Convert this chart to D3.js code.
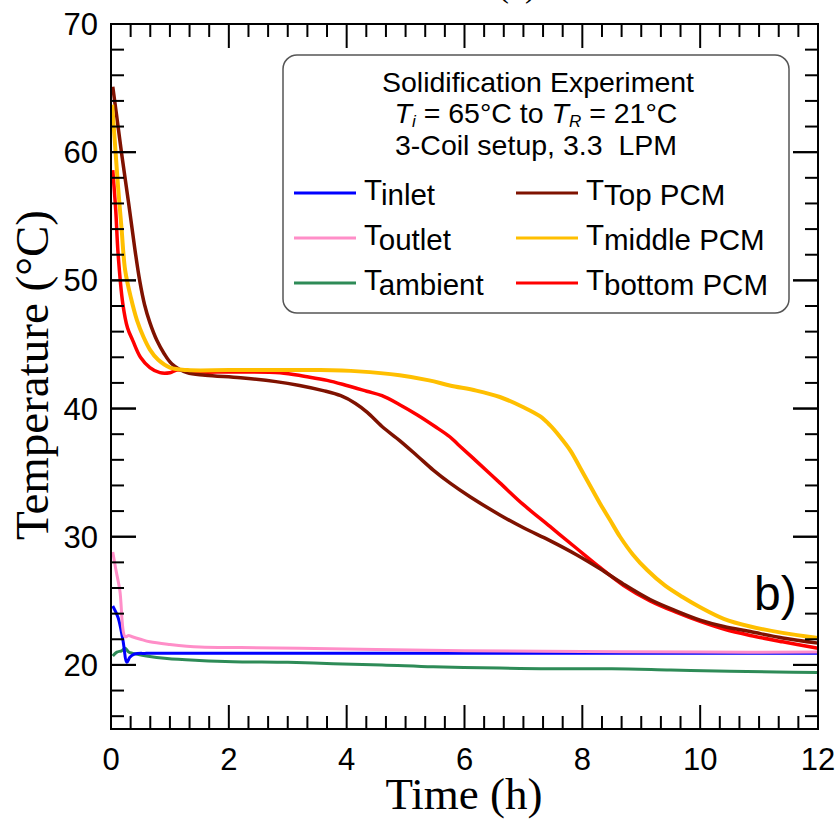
<!DOCTYPE html>
<html>
<head>
<meta charset="utf-8">
<script src="https://cdn.jsdelivr.net/npm/d3@7"></script>
<style>
  body { margin: 0; background: #fff; }
</style>
</head>
<body>
<script>

// time (h) and temperature (C), one pair of arrays per sensor
var tTop = [0.03,0.1,0.18,0.3,0.4,0.49,0.57,0.66,0.78,0.9,1.03,1.29,1.6,2.2,2.8,3.2,3.6,3.9,4.15,4.35,4.6,4.9,5.2,5.47,5.75,6.1,6.6,7.0,7.45,7.9,8.3,8.7,9.15,9.6,10.0,10.4,10.85,11.4,12.0]
var yTop = [65.1,62.7,59.9,56.0,52.6,49.9,48.1,46.7,45.3,44.3,43.5,42.8,42.6,42.4,42.1,41.8,41.4,41.0,40.4,39.7,38.6,37.5,36.3,35.2,34.2,33.1,31.7,30.7,29.7,28.6,27.5,26.3,25.1,24.2,23.5,23.0,22.6,22.1,21.7]

var tMid = [0.02,0.07,0.12,0.18,0.24,0.34,0.44,0.55,0.66,0.8,1.0,1.3,2.0,3.0,3.55,4.2,4.9,5.4,5.75,6.2,6.6,7.0,7.28,7.45,7.62,7.8,7.96,8.13,8.3,8.47,8.64,8.86,9.1,9.4,9.7,10.0,10.4,10.85,11.4,12.0]
var yMid = [63.7,60.5,57.3,54.0,50.8,48.6,46.9,45.6,44.6,43.8,43.2,43.0,43.0,43.0,43.0,42.9,42.6,42.2,41.8,41.4,40.9,40.1,39.4,38.7,37.8,36.7,35.4,34.0,32.6,31.3,30.0,28.6,27.4,26.2,25.3,24.5,23.6,23.0,22.5,22.1]

var tBot = [0.03,0.08,0.12,0.2,0.28,0.37,0.5,0.66,0.83,1.0,1.12,1.5,2.0,2.87,3.3,3.67,4.0,4.34,4.6,4.9,5.2,5.5,5.75,5.89,6.2,6.6,7.0,7.45,7.9,8.3,8.7,9.15,9.6,10.0,10.4,10.85,11.4,12.0]
var yBot = [58.6,55.5,52.1,48.2,46.3,45.3,44.0,43.2,42.8,42.8,43.0,42.85,42.85,42.8,42.5,42.2,41.8,41.35,41.0,40.3,39.5,38.6,37.8,37.2,35.9,34.2,32.5,30.8,29.1,27.6,26.2,25.0,24.1,23.4,22.8,22.3,21.8,21.3]

var tIn = [0.03,0.12,0.2,0.27,0.32,0.4,0.6,1.0,3.0,6.0,9.5,12.0]
var yIn = [24.6,23.7,22.0,20.2,20.6,20.85,20.9,20.9,20.9,20.9,20.9,20.9]

var tOut = [0.03,0.08,0.15,0.24,0.3,0.36,0.5,0.66,1.0,1.51,2.2,3.2,4.5,6.0,8.0,10.0,12.0]
var yOut = [28.8,27.5,25.8,22.2,22.3,22.2,22.0,21.8,21.6,21.4,21.35,21.3,21.2,21.1,21.05,21.0,21.0]

var tAmb = [0.03,0.1,0.18,0.24,0.3,0.37,0.6,0.95,1.5,2.07,3.0,3.77,4.6,5.47,6.6,7.3,8.5,9.5,10.5,11.3,12.0]
var yAmb = [20.7,21.0,21.1,21.3,21.0,20.9,20.7,20.5,20.35,20.25,20.2,20.1,20.0,19.85,19.75,19.7,19.7,19.6,19.5,19.45,19.4]

var xTickVals = [0,2,4,6,8,10,12]
var yTickVals = [20,30,40,50,60,70]

var legendNames = ["inlet","outlet","ambient","Top PCM","middle PCM","bottom PCM"]
var legendColors = ["#0000ff","#ff8ec8","#2e8b57","#7f1200","#ffbf00","#ff0000"]

//------------------------------------------------------------

var W = 840, H = 831;
var pLeft = 111, pRight = 818, pTop = 24, pBottom = 729;

var svgContainer = d3.select("body").append("svg")
                                    .attr("width", W)
                                    .attr("height", H);

var x = d3.scaleLinear().domain([0, 12]).range([pLeft, pRight]);
var y = d3.scaleLinear().domain([15, 70]).range([pBottom, pTop]);

var minorX = d3.range(0, 12.001, 1/3);
var minorY = d3.range(16, 70, 2);

var sans = "Liberation Sans, Arial, sans-serif";
var serif = "Liberation Serif, Times New Roman, serif";

// curves
var line = d3.line()
  .x(function(d) { return x(d[0]); })
  .y(function(d) { return y(d[1]); })
  .curve(d3.curveCatmullRom.alpha(0.5));

var series = [
  {t: tAmb, v: yAmb, c: legendColors[2], w: 3},
  {t: tIn,  v: yIn,  c: legendColors[0], w: 3},
  {t: tOut, v: yOut, c: legendColors[1], w: 3},
  {t: tBot, v: yBot, c: legendColors[5], w: 3.5},
  {t: tTop, v: yTop, c: legendColors[3], w: 3.5},
  {t: tMid, v: yMid, c: legendColors[4], w: 4}
];

series.forEach(function(s) {
  var pts = s.t.map(function(t, i) { return [t, s.v[i]]; });
  svgContainer.append("path")
    .attr("d", line(pts))
    .attr("fill", "none")
    .attr("stroke", s.c)
    .attr("stroke-width", s.w)
    .attr("stroke-linejoin", "round");
});

// frame
svgContainer.append("rect")
  .attr("x", pLeft).attr("y", pTop)
  .attr("width", pRight - pLeft).attr("height", pBottom - pTop)
  .attr("fill", "none").attr("stroke", "#000").attr("stroke-width", 2);

// inward ticks on all four sides
var tickG = svgContainer.append("g").attr("stroke", "#000").attr("stroke-width", 2);
minorX.forEach(function(t) {
  var major = Math.abs(t - Math.round(t/2)*2) < 1e-6;
  var len = major ? 24 : 13;
  tickG.append("line").attr("x1", x(t)).attr("x2", x(t)).attr("y1", pBottom).attr("y2", pBottom - len);
  tickG.append("line").attr("x1", x(t)).attr("x2", x(t)).attr("y1", pTop).attr("y2", pTop + len);
});
minorY.concat(yTickVals).forEach(function(v) {
  var major = v % 10 == 0;
  var len = major ? 25 : 13;
  tickG.append("line").attr("x1", pLeft).attr("x2", pLeft + len).attr("y1", y(v)).attr("y2", y(v));
  tickG.append("line").attr("x1", pRight).attr("x2", pRight - len).attr("y1", y(v)).attr("y2", y(v));
});

// tick labels
svgContainer.selectAll(".xl").data(xTickVals).enter().append("text")
  .attr("x", function(d) { return x(d); })
  .attr("y", 770)
  .attr("text-anchor", "middle")
  .style("font-family", sans)
  .style("font-size", "31px")
  .text(function(d) { return d; });

svgContainer.selectAll(".yl").data(yTickVals).enter().append("text")
  .attr("x", 98)
  .attr("y", function(d) { return y(d) + 11; })
  .attr("text-anchor", "end")
  .style("font-family", sans)
  .style("font-size", "31px")
  .text(function(d) { return d; });

// axis titles
svgContainer.append("text")
  .attr("x", 464).attr("y", 809)
  .attr("text-anchor", "middle")
  .style("font-family", serif)
  .style("font-size", "45px")
  .text("Time (h)");

svgContainer.append("text")
  .attr("transform", "translate(48,375) rotate(-90)")
  .attr("text-anchor", "middle")
  .style("font-family", serif)
  .style("font-size", "47px")
  .text("Temperature (\u00B0C)");

// cut-off panel title at the very top
svgContainer.append("text")
  .attr("x", 517).attr("y", -3)
  .attr("text-anchor", "middle")
  .style("font-family", serif)
  .style("font-size", "32px")
  .text("(b)");

// legend box
svgContainer.append("rect")
  .attr("x", 283).attr("y", 55)
  .attr("width", 506).attr("height", 258)
  .attr("rx", 14).attr("ry", 14)
  .attr("fill", "#fff").attr("stroke", "#555").attr("stroke-width", 1.5);

svgContainer.append("text")
  .attr("x", 538).attr("y", 92).attr("text-anchor", "middle")
  .style("font-family", sans).style("font-size", "28.5px")
  .text("Solidification Experiment");

var l2 = svgContainer.append("text")
  .attr("x", 536).attr("y", 123).attr("text-anchor", "middle")
  .style("font-family", sans).style("font-size", "28.5px");
l2.append("tspan").style("font-style", "italic").text("T");
l2.append("tspan").style("font-style", "italic").style("font-size", "17px").attr("dy", 4).text("i");
l2.append("tspan").attr("dy", -4).text(" = 65\u00B0C to ");
l2.append("tspan").style("font-style", "italic").text("T");
l2.append("tspan").style("font-style", "italic").style("font-size", "17px").attr("dy", 4).text("R");
l2.append("tspan").attr("dy", -4).text(" = 21\u00B0C");

svgContainer.append("text")
  .attr("x", 536).attr("y", 155).attr("text-anchor", "middle")
  .style("font-family", sans).style("font-size", "28.5px")
  .text("3-Coil setup, 3.3\u00A0 LPM");

legendNames.forEach(function(name, i) {
  var col = Math.floor(i / 3), row = i % 3;
  var lx = col == 0 ? 294 : 516;
  var ly = 193 + row * 45;
  svgContainer.append("line")
    .attr("x1", lx).attr("x2", lx + 62)
    .attr("y1", ly).attr("y2", ly)
    .attr("stroke", legendColors[i]).attr("stroke-width", 3);
  var tx = svgContainer.append("text")
    .attr("x", lx + 70).attr("y", ly + 7)
    .style("font-family", sans).style("font-size", "29.5px");
  tx.append("tspan").text("T");
  tx.append("tspan").attr("dy", 5).text(name);
});

// panel letter
svgContainer.append("text")
  .attr("x", 754).attr("y", 610)
  .style("font-family", sans).style("font-size", "48px")
  .text("b)");

</script>
</body>
</html>
